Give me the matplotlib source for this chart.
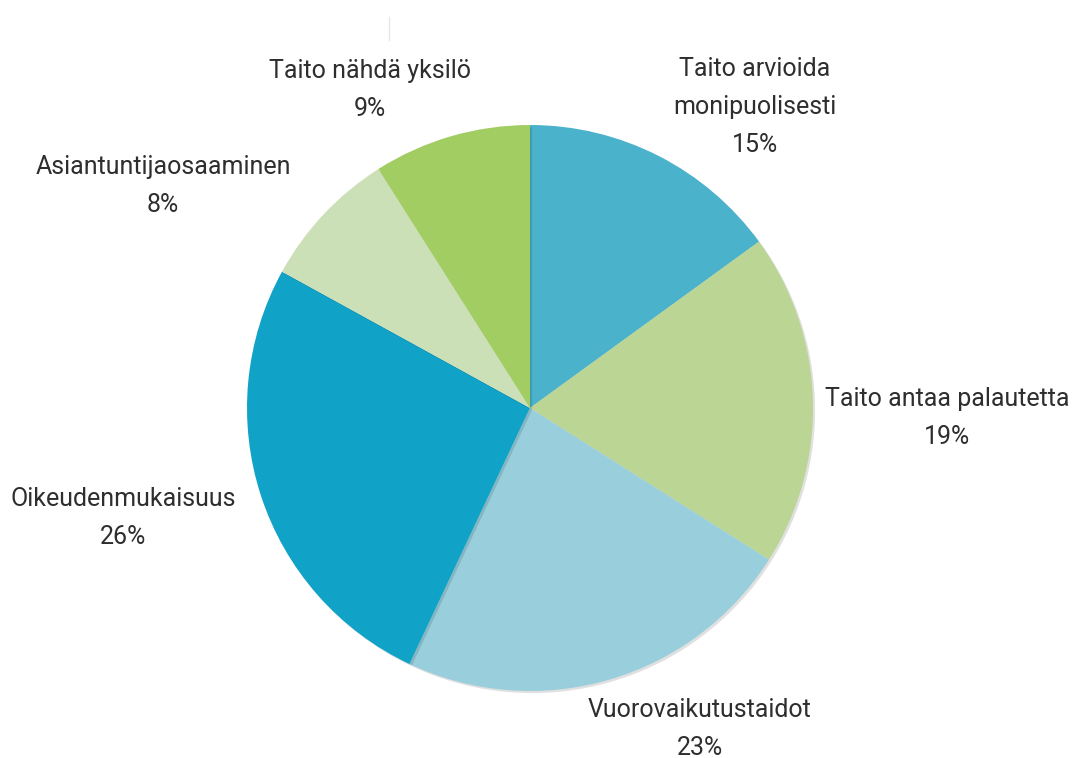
import matplotlib
matplotlib.use('Agg')
import matplotlib.pyplot as plt
import matplotlib.patheffects as pe

labels = ['Taito arvioida\nmonipuolisesti', 'Taito antaa palautetta', 'Vuorovaikutustaidot',
          'Oikeudenmukaisuus', 'Asiantuntijaosaaminen', 'Taito nähdä yksilö']
shares = [15, 19, 23, 26, 8, 9]
colors = ['#4BB2CB', '#BAD594', '#99CFDC', '#11A3C7', '#CCE0B7', '#A1CD63']

# where each label block sits (pixel coords from top-left)
label_pos = [(755, 107), (947, 418), (700, 729), (123, 518), (163, 186), (370, 90)]

W, H = 1074, 758
fig = plt.figure(figsize=(W / 100, H / 100), dpi=100)
ax = fig.add_axes([0, 0, 1, 1])

wedges, _ = ax.pie(shares, colors=colors, startangle=90, counterclock=False,
                   center=(530, H - 408), radius=283, frame=True)
for w in wedges:
    w.set_path_effects([pe.SimplePatchShadow(offset=(1.5, -1.5), shadow_rgbFace='black', alpha=0.12),
                        pe.Normal()])
ax.axis('off')
ax.set_xlim(0, W)
ax.set_ylim(0, H)

for lab, share, (x, y) in zip(labels, shares, label_pos):
    ax.text(x, H - y, f"{lab}\n{share}%", ha='center', va='center', fontsize=18,
            family=['Roboto', 'DejaVu Sans'], color='#2e2e2e',
            linespacing=1.72)

# faint stray line at the top of the original
ax.plot([389, 389], [H - 17, H - 40], color='#e6e6e6', lw=1)

fig.savefig('out.png', dpi=100)
